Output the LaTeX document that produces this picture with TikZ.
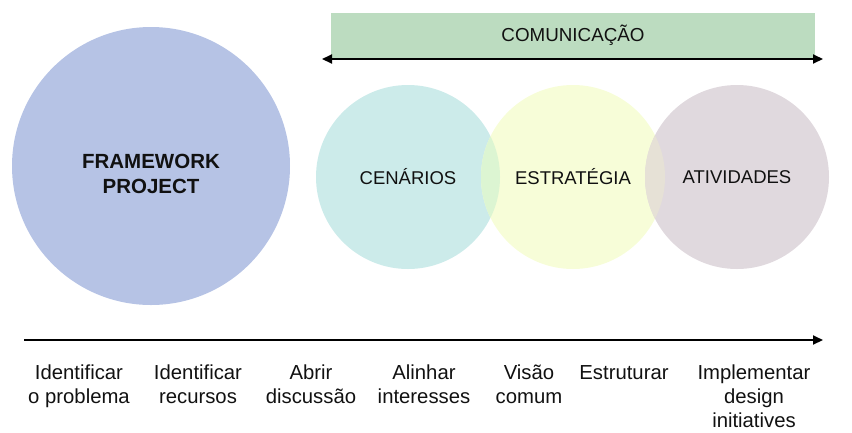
\documentclass[tikz,border=0pt]{standalone}
\usepackage{fontspec}
\setmainfont{Liberation Sans}
\usetikzlibrary{arrows.meta}
\definecolor{bigc}{HTML}{B6C3E5}
\definecolor{cyanc}{HTML}{CCEBEA}
\definecolor{yelc}{HTML}{F7FDD8}
\definecolor{purc}{HTML}{E0D9DE}
\definecolor{cyyel}{HTML}{DCF5D2}
\definecolor{yelpur}{HTML}{E6E1D6}
\definecolor{banc}{HTML}{BCDCC0}
\definecolor{txt}{HTML}{111111}
\begin{document}
\begin{tikzpicture}[x=1pt,y=-1pt,
  disc/.style={circle,inner sep=0pt,minimum size=184pt,text=txt,
    font={\fontsize{18.5}{22}\selectfont}},
  arr/.style={line width=2pt,{Triangle[length=10pt,width=9pt]}-{Triangle[length=10pt,width=9pt]}},
  arrr/.style={line width=2pt,-{Triangle[length=10pt,width=9pt]}},
  steplabel/.style={anchor=north,inner sep=0pt,align=center,text=txt,
    font={\fontsize{20.3}{24}\selectfont}}]
\useasboundingbox (0,0) rectangle (852,432);
% big circle
\node[circle,fill=bigc,minimum size=278pt,inner sep=0pt] (fw) at (151,166) {};
\node[align=center,text=txt,font={\fontsize{20.5}{25}\selectfont\bfseries}] (fwt) at (151,174) {FRAMEWORK\\PROJECT};
% banner
\node[fill=banc,minimum width=484pt,minimum height=45pt,inner sep=0pt,text=txt,
  font={\fontsize{18.8}{22}\selectfont}] (com) at (573,35) {COMUNICAÇÃO};
\coordinate (cl) at (322,59);
\coordinate (cr) at (823,59);
\draw[arr] (cl) -- (cr);
% three circles
\node[disc,fill=cyanc] (cen) at (408,177) {};
\node[disc,fill=yelc] (est) at (573,177) {};
\node[disc,fill=purc] (ati) at (737,177) {};
\begin{scope}
  \clip (408,177) circle (92pt);
  \fill[cyyel] (573,177) circle (92pt);
\end{scope}
\begin{scope}
  \clip (573,177) circle (92pt);
  \fill[yelpur] (737,177) circle (92pt);
\end{scope}
\node[disc] (cent) at (cen.center) {CENÁRIOS};
\node[disc] (estt) at (est.center) {ESTRATÉGIA};
\node[disc] (atit) at (ati.center) {ATIVIDADES};
% timeline
\coordinate (tl) at (24,340);
\coordinate (tr) at (823,340);
\draw[arrr] (tl) -- (tr);
\node[steplabel] (s1) at (79,365) {Identificar\\o problema};
\node[steplabel] (s2) at (198,365) {Identificar\\recursos};
\node[steplabel] (s3) at (311,365) {Abrir\\discussão};
\node[steplabel] (s4) at (424,365) {Alinhar\\interesses};
\node[steplabel] (s5) at (529,365) {Visão\\comum};
\node[steplabel] (s6) at (624,365) {Estruturar};
\node[steplabel] (s7) at (754,365) {Implementar\\design\\initiatives};
\end{tikzpicture}
\end{document}
